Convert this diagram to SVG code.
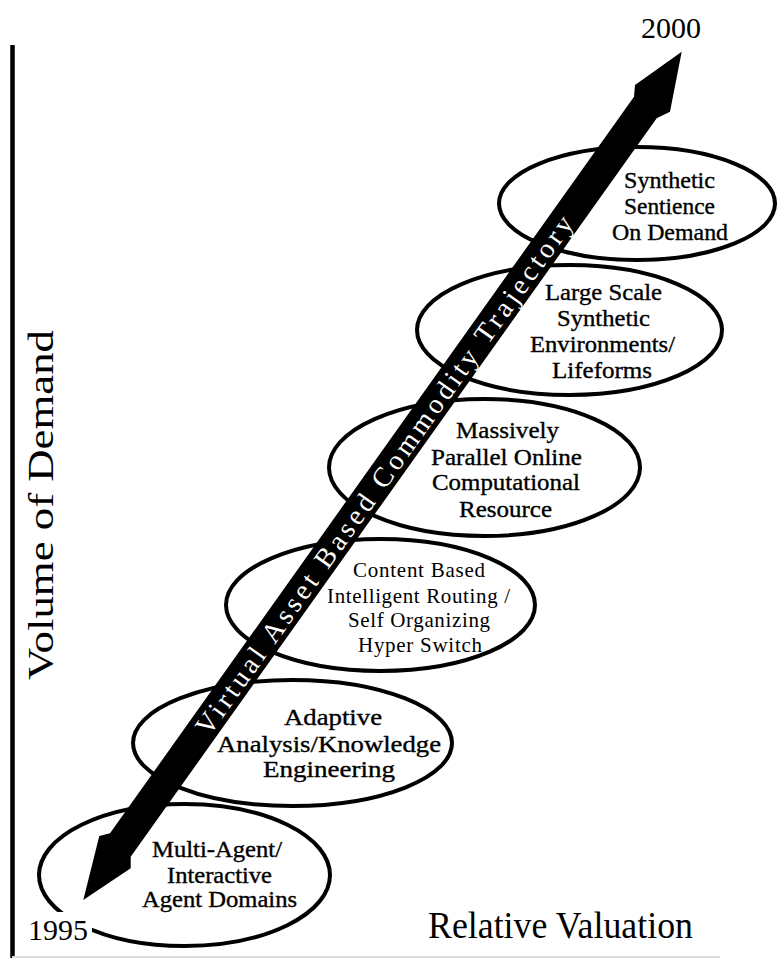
<svg xmlns="http://www.w3.org/2000/svg" width="778" height="958" viewBox="0 0 778 958">
<style>
.bg{fill:#fff}
.ell{fill:none;stroke:#000;stroke-width:4}
.t{font-family:"Liberation Serif","Times New Roman",serif;font-size:23px;fill:#000;stroke:#000;stroke-width:0.35;text-anchor:middle}
.tl{font-family:"Liberation Serif","Times New Roman",serif;font-size:21px;fill:#000;text-anchor:middle}
.lab{font-family:"Liberation Serif","Times New Roman",serif;fill:#000}
.arrow{fill:#000;stroke:none}
.atext{font-family:"Liberation Serif","Times New Roman",serif;font-size:28px;fill:#fff;text-anchor:middle}
</style>
<rect class="bg" x="0" y="0" width="778" height="958"/>
<g id="axes">
<line x1="12.5" y1="45" x2="12.5" y2="958" stroke="#000" stroke-width="4.5"/>
<line x1="12" y1="957" x2="720" y2="957" stroke="#dcdcdc" stroke-width="2"/>
<text class="lab" font-size="35" text-anchor="middle" transform="translate(53,505) rotate(-90)" textLength="350" lengthAdjust="spacingAndGlyphs">Volume of Demand</text>
<text class="lab" font-size="38" x="428" y="938" textLength="265" lengthAdjust="spacingAndGlyphs">Relative Valuation</text>
</g>
<g id="n1">
<ellipse class="ell" cx="184.5" cy="875" rx="145.5" ry="71"/>
<text class="t" x="217" y="857" textLength="130" lengthAdjust="spacingAndGlyphs">Multi-Agent/</text>
<text class="t" x="219.5" y="883" textLength="105" lengthAdjust="spacingAndGlyphs">Interactive</text>
<text class="t" x="219.5" y="907" textLength="155" lengthAdjust="spacingAndGlyphs">Agent Domains</text>
</g>
<g id="n2">
<ellipse class="ell" cx="292.5" cy="743" rx="159.5" ry="63"/>
<text class="t" x="333" y="725" textLength="98" lengthAdjust="spacingAndGlyphs">Adaptive</text>
<text class="t" x="329" y="752" textLength="224" lengthAdjust="spacingAndGlyphs">Analysis/Knowledge</text>
<text class="t" x="329" y="777" textLength="132" lengthAdjust="spacingAndGlyphs">Engineering</text>
</g>
<g id="n3">
<ellipse class="ell" cx="380.5" cy="605" rx="154.5" ry="66"/>
<text class="tl" x="419" y="577" textLength="132">Content Based</text>
<text class="tl" x="418.5" y="603" textLength="183">Intelligent Routing /</text>
<text class="tl" x="419" y="627" textLength="142">Self Organizing</text>
<text class="tl" x="420" y="652" textLength="124">Hyper Switch</text>
</g>
<g id="n4">
<ellipse class="ell" cx="484.5" cy="467.5" rx="155.5" ry="68.5"/>
<text class="t" x="507.5" y="438" textLength="103" lengthAdjust="spacingAndGlyphs">Massively</text>
<text class="t" x="506.5" y="465" textLength="151" lengthAdjust="spacingAndGlyphs">Parallel Online</text>
<text class="t" x="506" y="490" textLength="148" lengthAdjust="spacingAndGlyphs">Computational</text>
<text class="t" x="505.5" y="517" textLength="93" lengthAdjust="spacingAndGlyphs">Resource</text>
</g>
<g id="n5">
<ellipse class="ell" cx="569.5" cy="330" rx="152.5" ry="65"/>
<text class="t" x="603.5" y="300" textLength="117" lengthAdjust="spacingAndGlyphs">Large Scale</text>
<text class="t" x="603.5" y="326" textLength="93" lengthAdjust="spacingAndGlyphs">Synthetic</text>
<text class="t" x="602.5" y="352" textLength="145" lengthAdjust="spacingAndGlyphs">Environments/</text>
<text class="t" x="602" y="378" textLength="100" lengthAdjust="spacingAndGlyphs">Lifeforms</text>
</g>
<g id="n6">
<ellipse class="ell" cx="637" cy="203.5" rx="138" ry="56.5"/>
<text class="t" x="669.5" y="188" textLength="91" lengthAdjust="spacingAndGlyphs">Synthetic</text>
<text class="t" x="669.5" y="214" textLength="91" lengthAdjust="spacingAndGlyphs">Sentience</text>
<text class="t" x="670" y="240" textLength="116" lengthAdjust="spacingAndGlyphs">On Demand</text>
</g>
<g id="connectors">
<polygon class="arrow" points="681.7,51.7 670,111.7 656.7,118.3 130.7,856.7 130.7,868.3 83.3,900 99.3,836 110,833.3 634,96.7 635,85"/>
<text class="atext" transform="translate(384,475) rotate(-54.55)" x="0" y="9.5" textLength="630" lengthAdjust="spacing">Virtual Asset Based Commodity Trajectory</text>
</g>
<g id="years">
<rect class="bg" x="24" y="912" width="68" height="32"/>
<text class="lab" font-size="30" x="58" y="940" text-anchor="middle" textLength="60" lengthAdjust="spacingAndGlyphs">1995</text>
<text class="lab" font-size="30" x="671" y="38" text-anchor="middle" textLength="60" lengthAdjust="spacingAndGlyphs">2000</text>
</g>
</svg>
